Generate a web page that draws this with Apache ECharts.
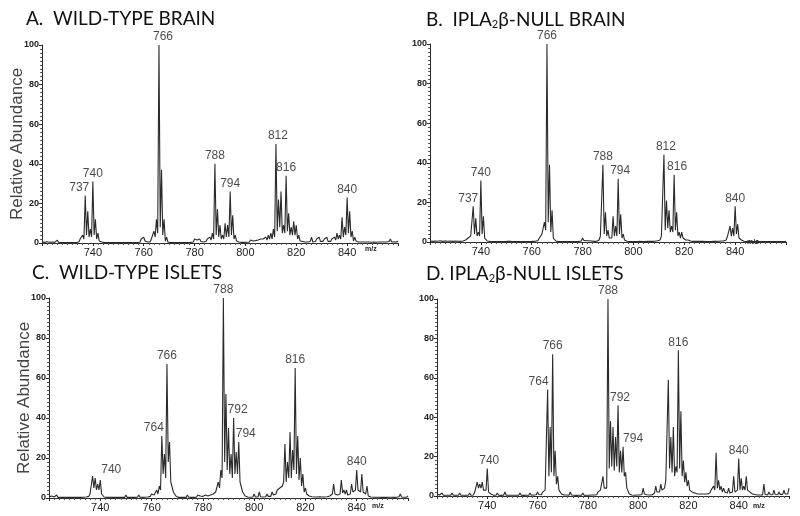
<!DOCTYPE html>
<html><head><meta charset="utf-8">
<script src="https://cdn.jsdelivr.net/npm/echarts@6/dist/echarts.min.js"></script>
<style>html,body{margin:0;padding:0;background:#fff}#c{width:800px;height:516px}</style>
</head><body><div id="c"></div>
<script>
// m/z sampling: integer positions (peaks) from 720 to 860, half-integer positions (valleys) between
const mzStart = 720;

// ---------- Panel A: WILD-TYPE BRAIN ----------
const peaksA = [
  0.5,0.3,0.6,0.4,0.5,0.3,1.5,0.4,0.5,0.3,
  0.5,0.4,0.6,0.5,1,2,4,24,16,7,
  31,12,5,2,1,0.5,0.4,0.6,0.3,0.5,
  0.4,0.5,0.3,0.6,0.4,0.5,0.3,0.6,1,2,
  3,1.5,1,2,6,12,100,37,12,3,
  1,0.5,0.4,0.6,0.3,0.5,0.4,0.6,0.8,1,
  2,1.5,2,1,1.5,2,3,5,40,17,
  9,4,10,9,26,14,4,2,1,0.6,
  1,0.8,1.5,1,1.2,1.5,2,2,3,4,
  5,7,50,22,26,9,34,15,8,11,
  9,4,2,1.5,1,1.5,3,1,2,3,
  1.5,2,3,1.5,2,3,5,4,13,8,
  23,16,6,3,2,1,1.5,1,1.2,0.8,
  1,1.5,0.8,1.2,1,1.5,1,2,1,1.5,
  1
];
const valleysA = [
  0.2,0.2,0.2,0.2,0.2,0.2,0.3,0.2,0.2,0.2,
  0.2,0.2,0.2,0.2,0.5,1,2,4,3,3,
  4,2,1,0.5,0.2,0.2,0.2,0.2,0.2,0.2,
  0.2,0.2,0.2,0.2,0.2,0.2,0.2,0.2,0.4,1,
  1,0.5,0.5,1,3,5,8,4,1,0.5,
  0.2,0.2,0.2,0.2,0.2,0.2,0.2,0.2,0.3,0.5,
  1,0.8,0.8,0.5,0.8,1,1.5,2,4,3,
  2,2,3,3,4,2,1,0.5,0.3,0.3,
  0.4,0.4,0.5,0.5,0.6,0.8,1,1,1.5,2,
  2,3,6,8,5,5,6,4,4,4,
  2,1,0.8,0.5,0.5,0.8,0.5,0.8,1,0.8,
  0.8,1,0.8,0.8,1.2,1.5,2,2,3,4,
  5,3,1,1,0.5,0.5,0.5,0.5,0.5,0.4,
  0.5,0.4,0.5,0.5,0.5,0.5,0.8,0.5,0.6,0.5
];
const labelMzA = [737,740,766,788,794,812,816,840];

// ---------- Panel B: IPLA2β-NULL BRAIN ----------
const peaksB = [
  0.5,0.3,0.5,0.4,0.6,0.3,0.5,0.4,0.5,0.3,
  0.5,0.4,0.3,0.5,1,2,3,18,12,5,
  31,13,3,1,0.5,0.4,0.5,0.3,0.5,0.4,
  0.6,0.8,0.5,0.4,0.5,0.3,0.5,0.4,0.5,0.4,
  0.5,0.6,1,2,4,10,100,39,16,3,
  1,0.5,0.4,0.5,0.3,0.5,0.4,0.5,0.4,1,
  2,1,1.5,1,0.8,0.5,1,3,39,15,
  6,3,13,8,32,14,4,1,0.5,0.4,
  0.5,0.4,0.6,0.5,0.4,0.5,0.6,0.5,0.6,1,
  1.5,3,44,21,16,8,34,15,5,5,
  3,2,2,1,0.5,0.6,0.8,0.5,0.6,0.5,
  0.4,0.5,0.6,0.8,1,1,1.5,3,8,7,
  18,9,3,1,0.5,0.6,0.4,0.5,0.3,0.5,
  0.4,0.5,0.6,0.4,0.5,0.3,0.5,0.4,0.5,0.3,
  0.4
];
const valleysB = [
  0.2,0.2,0.2,0.2,0.2,0.2,0.2,0.2,0.2,0.2,
  0.2,0.2,0.2,0.5,0.8,1.5,2,4,3,3,
  4,2,0.5,0.3,0.2,0.2,0.2,0.2,0.2,0.2,
  0.3,0.3,0.2,0.2,0.2,0.2,0.2,0.2,0.2,0.2,
  0.3,0.4,0.8,1.5,3,6,10,5,2,0.5,
  0.2,0.2,0.2,0.2,0.2,0.2,0.2,0.2,0.3,0.5,
  0.8,0.6,0.6,0.5,0.3,0.4,1,2,4,3,
  2,2,3,3,4,2,1,0.4,0.2,0.2,
  0.2,0.2,0.3,0.2,0.2,0.3,0.3,0.3,0.4,0.6,
  1,2,6,7,5,5,6,3,2,2,
  1,1,0.5,0.3,0.3,0.3,0.3,0.3,0.2,0.2,
  0.2,0.3,0.3,0.4,0.5,0.5,1,2,3,3,
  4,2,1,0.4,0.2,0.2,0.2,0.2,0.2,0.2,
  0.2,0.2,0.2,0.2,0.2,0.2,0.2,0.2,0.2,0.2
];
const labelMzB = [737,740,766,788,794,812,816,840];

// ---------- Panel C: WILD-TYPE ISLETS ----------
const peaksC = [
  0.5,1,0.5,1.5,0.5,0.8,1,0.5,1,0.5,
  0.8,0.5,1,0.5,1,1.5,2,11,10,7,
  9,3,1,0.5,0.8,0.5,1,0.5,0.8,0.5,
  1.5,0.5,0.8,0.5,1,1.5,0.5,1,0.8,1.5,
  2,1.5,4,6,31,22,67,28,8,3,
  1,0.5,1,0.5,1.5,0.8,0.5,1,1.5,1,
  0.8,1.5,1,1.5,2,3,8,14,100,52,
  35,22,40,23,28,9,3,1,0.5,1,
  2,0.8,3,1,0.8,2,1,3,2,4,
  5,6,27,18,33,24,65,31,20,12,
  5,3,1.5,1,0.8,1.5,1,0.8,1,1.5,
  2,7,3,2,9,4,4,2,7,4,
  14,4,12,3,6,1.5,1,0.8,1,0.5,
  0.8,1,0.5,0.8,1,0.5,1,2,1,0.8,
  1
];
const valleysC = [
  0.3,0.3,0.3,0.3,0.3,0.3,0.3,0.3,0.3,0.3,
  0.3,0.3,0.3,0.4,0.5,0.8,1.5,5,4,4,
  2,0.5,0.3,0.3,0.3,0.3,0.3,0.3,0.3,0.3,
  0.3,0.3,0.3,0.3,0.4,0.4,0.3,0.4,0.5,0.8,
  1,1,2,4,12,10,18,8,3,1,
  0.3,0.3,0.3,0.3,0.4,0.3,0.3,0.4,0.5,0.5,
  0.5,0.6,0.6,0.8,1,2,5,10,18,14,
  12,10,12,12,8,3,1,0.5,0.4,0.5,
  0.5,0.5,0.6,0.5,0.6,0.8,0.8,1.5,2,3,
  4,8,8,10,10,14,12,9,6,3,
  2,1,0.6,0.5,0.5,0.6,0.5,0.5,0.6,1,
  2,2,1.5,2,2.5,2,1.5,2,3,4,
  4,3,3,2,1,0.5,0.4,0.4,0.4,0.3,
  0.4,0.3,0.4,0.4,0.3,0.4,0.6,0.5,0.4,0.4
];
const labelMzC = [740,764,766,788,792,794,816,840];

// ---------- Panel D: IPLA2β-NULL ISLETS ----------
const peaksD = [
  1,0.5,1.5,0.8,1,0.5,1.5,1,0.8,1.5,
  0.5,1,0.8,1.5,1,2,7,6,7,4,
  14,3,1,0.8,1.5,0.5,1,2,0.8,1,
  0.5,1,0.8,1.5,0.5,1,0.8,1.5,1,1.5,
  2,1,2,3,54,35,72,23,10,3,
  1,1.5,0.8,2,1,0.5,1,0.8,1.5,0.5,
  1,0.8,1.5,1,2,3,10,5,100,38,
  35,30,46,23,25,12,3,1,0.8,1,
  1.5,1,4,2,1,0.8,1,5,3,6,
  4,8,59,30,35,15,74,43,18,12,
  8,4,3,2,1,2,1.5,2,1,3,
  5,22,8,5,4,3,4,2,10,3,
  19,9,5,10,4,2,1.5,1,1,0.8,
  6,1,2,1,3,1,2,1.5,3,2,
  4
];
const valleysD = [
  0.4,0.4,0.4,0.4,0.4,0.4,0.4,0.4,0.4,0.4,
  0.4,0.4,0.4,0.4,0.5,1,4,4,3,3,
  2,1,0.4,0.4,0.4,0.3,0.4,0.4,0.4,0.4,
  0.4,0.4,0.4,0.4,0.3,0.4,0.4,0.4,0.5,0.6,
  0.8,0.6,1,2,10,12,10,6,3,1,
  0.5,0.5,0.4,0.5,0.4,0.3,0.4,0.4,0.4,0.4,
  0.4,0.5,0.5,0.6,1,2,4,4,14,15,
  13,15,12,12,10,4,1,0.5,0.4,0.5,
  0.5,0.8,1,0.6,0.5,0.5,1.5,2,2,3,
  4,8,14,12,10,12,14,10,7,5,
  3,2,1.5,1,1,1,1,1,1.5,2,
  3,4,3,2,2,1.5,1.5,2,2,3,
  3,3,3,3,2,1,0.8,0.5,0.5,0.5,
  0.8,0.5,0.8,0.6,0.8,0.6,0.8,0.8,1,1
];
const labelMzD = [740,764,766,788,792,794,816,840];

// axis
const xMin = 720, xMax = 860, xStep = 20;
const yTicks = [0, 20, 40, 60, 80, 100];

// ---------- layout / style (not data) ----------
const panels = [
  {peaks: peaksA, valleys: valleysA, labels: labelMzA, grid: {left: 42, top: 45, width: 356, height: 198},
   title: 'A.  WILD-TYPE BRAIN', tl: 21, tt: 4, yName: true, mz: [370, 250],
   nudge: {737: [-6, 0], 766: [4, 0], 812: [2, 0]}},
  {peaks: peaksB, valleys: valleysB, labels: labelMzB, grid: {left: 430, top: 44, width: 356, height: 198},
   title: 'B.  IPLA{sub|2}β-NULL BRAIN', tl: 421, tt: 4, yName: false, mz: [752, 243],
   nudge: {737: [-5, 0], 794: [2, 0], 812: [2, 0], 816: [3, 0]}},
  {peaks: peaksC, valleys: valleysC, labels: labelMzC, grid: {left: 49, top: 298, width: 359, height: 200},
   title: 'C.  WILD-TYPE ISLETS', tl: 27, tt: 258, yName: true, mz: [377, 507],
   nudge: {740: [11, -2], 764: [-8, 0], 792: [4, 0], 794: [7, 0]}},
  {peaks: peaksD, valleys: valleysD, labels: labelMzD, grid: {left: 437, top: 299, width: 352, height: 197},
   title: 'D. IPLA{sub|2}β-NULL ISLETS', tl: 421, tt: 258, yName: false, mz: [758, 507],
   nudge: {740: [2, 0], 764: [-9, 0], 792: [2, 0], 794: [10, 0]}}
];

function profile(peaks, valleys) {
  const out = [];
  for (let i = 0; i < peaks.length; i++) {
    out.push([mzStart + i, peaks[i]]);
    if (i < valleys.length) out.push([mzStart + i + 0.5, valleys[i]]);
  }
  return out;
}

const ink = '#2b2b2b';
const option = {
  animation: false,
  backgroundColor: '#fff',
  title: [], grid: [], xAxis: [], yAxis: [], series: [], graphic: []
};

panels.forEach((p, k) => {
  option.title.push({
    text: p.title, left: p.tl, top: p.tt,
    textStyle: {fontFamily: 'Lato', fontWeight: 'normal', fontSize: 19, color: '#111',
      rich: {sub: {fontFamily: 'Lato', fontSize: 11, color: '#111', verticalAlign: 'bottom', padding: [10, 0, 0, 0]}}}
  });
  option.grid.push(Object.assign({containLabel: false}, p.grid));
  option.xAxis.push({
    type: 'value', gridIndex: k, min: xMin, max: xMax, interval: xStep,
    axisLine: {lineStyle: {color: ink, width: 1}},
    axisTick: {show: true, length: 3, lineStyle: {color: ink}},
    minorTick: {show: true, splitNumber: 10, length: 2, lineStyle: {color: '#555'}},
    splitLine: {show: false},
    axisLabel: {showMinLabel: false, showMaxLabel: false, fontFamily: 'Liberation Sans', fontSize: 11, color: '#222', margin: 4}
  });
  option.yAxis.push({
    type: 'value', gridIndex: k, min: yTicks[0], max: yTicks[yTicks.length - 1], interval: yTicks[1] - yTicks[0],
    axisLine: {show: true, lineStyle: {color: ink, width: 1}},
    axisTick: {show: true, length: 3, lineStyle: {color: ink}},
    minorTick: {show: true, splitNumber: 10, length: 2, lineStyle: {color: '#555'}},
    splitLine: {show: false},
    axisLabel: {fontFamily: 'Liberation Sans', fontSize: 9, fontWeight: 'bold', color: '#222', margin: 3},
    name: p.yName ? 'Relative Abundance' : '', nameLocation: 'middle', nameGap: 16, nameMoveOverlap: false,
    nameTextStyle: {fontFamily: 'Liberation Sans', fontSize: 17, color: '#444'}
  });
  option.series.push({
    type: 'line', xAxisIndex: k, yAxisIndex: k, data: profile(p.peaks, p.valleys),
    showSymbol: false, symbol: 'none', lineStyle: {color: ink, width: 1.1}, silent: true
  });
  option.series.push({
    type: 'scatter', xAxisIndex: k, yAxisIndex: k, symbolSize: 0, silent: true,
    data: p.labels.map(m => ({
      value: [m, p.peaks[m - mzStart]],
      label: {offset: p.nudge[m] || [0, 0]}
    })),
    label: {show: true, position: 'top', distance: 2, formatter: d => String(d.value[0]),
      fontFamily: 'Liberation Sans', fontSize: 12, color: '#1a1a1a'}
  });
  option.graphic.push({
    type: 'text', left: p.mz[0] - 5, top: p.mz[1] - 4,
    style: {text: 'm/z', font: 'bold 7px "Liberation Sans"', fill: '#222'}
  });
});

const chart = echarts.init(document.getElementById('c'), null, {renderer: 'canvas'});
chart.setOption(option);
</script></body></html>
